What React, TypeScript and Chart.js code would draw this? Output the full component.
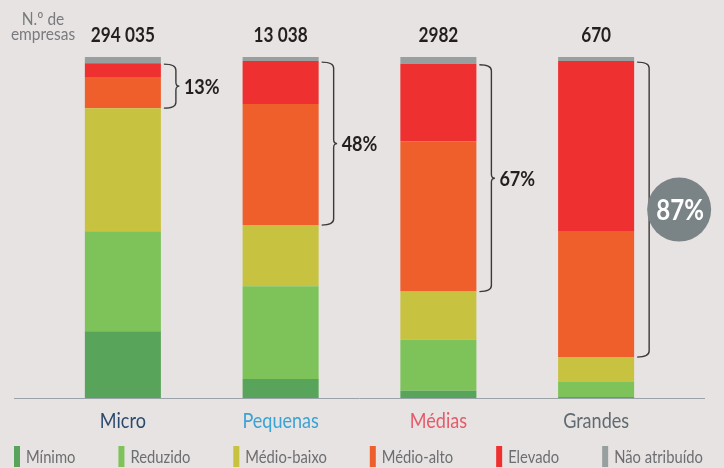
import { useEffect, useRef } from "react";
import { Chart, registerables } from "chart.js";

Chart.register(...registerables);

const categories = ["Micro", "Pequenas", "Médias", "Grandes"];
const categoryColors = ["#2b4a6e", "#3ba3d3", "#e55a68", "#5f6b70"];
const companyCounts = ["294 035", "13 038", "2982", "670"];
const minimo = [19.6, 5.6, 2.1, 0.3];
const reduzido = [29.3, 27.2, 15.0, 4.4];
const medioBaixo = [36.1, 17.9, 14.1, 7.3];
const medioAlto = [9.1, 35.5, 44.0, 37.0];
const elevado = [4.1, 12.6, 22.8, 49.8];
const naoAtribuido = [1.8, 1.2, 2.0, 1.2];
const highShareLabels = ["13%", "48%", "67%", "87%"];
const seriesLabels = ["Mínimo", "Reduzido", "Médio-baixo", "Médio-alto", "Elevado", "Não atribuído"];
const seriesColors = ["#58a45a", "#7dc35a", "#c8c241", "#ee5f2c", "#ee3030", "#97a09f"];

const FONT = "Lato, 'Open Sans', sans-serif";
const BG = "#e7e3e2";
const CONDENSE = 0.86;

function text(ctx: CanvasRenderingContext2D, s: string, x: number, y: number, f = CONDENSE) {
  const w = ctx.measureText(s).width;
  ctx.fillText(s, x, y, w * f);
  return w * f;
}

const overlayPlugin = {
  id: "overlay",
  afterDraw(chart: any) {
    const ctx = chart.ctx as CanvasRenderingContext2D;
    const area = chart.chartArea;
    const xs = chart.scales.x;
    ctx.save();

    // axis line
    ctx.strokeStyle = "#9aa3a8";
    ctx.lineWidth = 1;
    ctx.beginPath();
    ctx.moveTo(14, area.bottom + 0.5);
    ctx.lineTo(705, area.bottom + 0.5);
    ctx.stroke();

    // header
    ctx.fillStyle = "#7a7b7e";
    ctx.font = `18px ${FONT}`;
    ctx.textAlign = "center";
    ctx.textBaseline = "alphabetic";
    text(ctx, "N.º de", 43, 25);
    text(ctx, "empresas", 43, 40);

    ctx.fillStyle = "#231f20";
    ctx.font = `bold 20px ${FONT}`;
    categories.forEach((_, i) => {
      text(ctx, companyCounts[i], xs.getPixelForValue(i), area.top - 15);
    });

    // category labels
    ctx.font = `21px ${FONT}`;
    categories.forEach((c, i) => {
      ctx.fillStyle = categoryColors[i];
      text(ctx, c, xs.getPixelForValue(i), area.bottom + 30);
    });

    // braces
    const metaHigh = chart.getDatasetMeta(4);
    const metaMid = chart.getDatasetMeta(3);
    categories.forEach((_, i) => {
      const elTop = metaHigh.data[i];
      const elBot = metaMid.data[i];
      const top = elTop.y + 1;
      const bottom = elBot.base;
      const barRight = elTop.x + elTop.width / 2;
      const x0 = barRight + 3;
      const xv = barRight + 15;
      const mid = (top + bottom) / 2;
      const r = 6;
      ctx.strokeStyle = "#3a3a3a";
      ctx.lineWidth = 1.4;
      ctx.beginPath();
      ctx.moveTo(x0, top);
      ctx.quadraticCurveTo(xv, top, xv, top + r);
      ctx.lineTo(xv, mid - 4);
      ctx.quadraticCurveTo(xv, mid, xv + 3.5, mid);
      ctx.quadraticCurveTo(xv, mid, xv, mid + 4);
      ctx.lineTo(xv, bottom - r);
      ctx.quadraticCurveTo(xv, bottom, x0, bottom);
      ctx.stroke();

      if (i === categories.length - 1) {
        const cx = xv + 30;
        ctx.fillStyle = "#7a8487";
        ctx.beginPath();
        ctx.arc(cx, mid, 32, 0, Math.PI * 2);
        ctx.fill();
        ctx.fillStyle = "#ffffff";
        ctx.font = `bold 28px ${FONT}`;
        ctx.textAlign = "center";
        ctx.textBaseline = "middle";
        text(ctx, highShareLabels[i], cx + 1, mid + 1);
      } else {
        ctx.fillStyle = "#231f20";
        ctx.font = `bold 21px ${FONT}`;
        ctx.textAlign = "left";
        ctx.textBaseline = "middle";
        text(ctx, highShareLabels[i], xv + 8, mid + 1);
      }
    });

    // legend
    ctx.font = `18px ${FONT}`;
    ctx.textAlign = "left";
    ctx.textBaseline = "alphabetic";
    let lx = 14;
    chart.data.datasets.forEach((ds: any) => {
      ctx.fillStyle = ds.backgroundColor;
      ctx.fillRect(lx, 446, 6, 21);
      ctx.fillStyle = "#6d6e71";
      const w = text(ctx, ds.label, lx + 12, 463, 0.82);
      lx += 12 + w + 43;
    });

    ctx.restore();
  },
};

export default function App() {
  const ref = useRef<HTMLCanvasElement>(null);
  useEffect(() => {
    if (!ref.current) return;
    const series = [minimo, reduzido, medioBaixo, medioAlto, elevado, naoAtribuido];
    const chart = new Chart(ref.current, {
      type: "bar",
      data: {
        labels: categories,
        datasets: series.map((d, k) => ({
          label: seriesLabels[k],
          data: d,
          backgroundColor: seriesColors[k],
          borderWidth: 0,
          categoryPercentage: 1,
          barPercentage: 0.482,
        })),
      },
      options: {
        animation: false,
        responsive: false,
        maintainAspectRatio: false,
        layout: { padding: { left: 44, right: 49, top: 57, bottom: 70 } },
        scales: {
          x: { stacked: true, display: false },
          y: { stacked: true, display: false, min: 0, max: 100 },
        },
        plugins: { legend: { display: false }, tooltip: { enabled: false } },
      },
      plugins: [overlayPlugin],
    });
    return () => chart.destroy();
  }, []);
  return (
    <div style={{ position: "fixed", left: 0, top: 0, width: 724, height: 468, background: BG }}>
      <canvas ref={ref} width={724} height={468} style={{ display: "block" }} />
    </div>
  );
}
